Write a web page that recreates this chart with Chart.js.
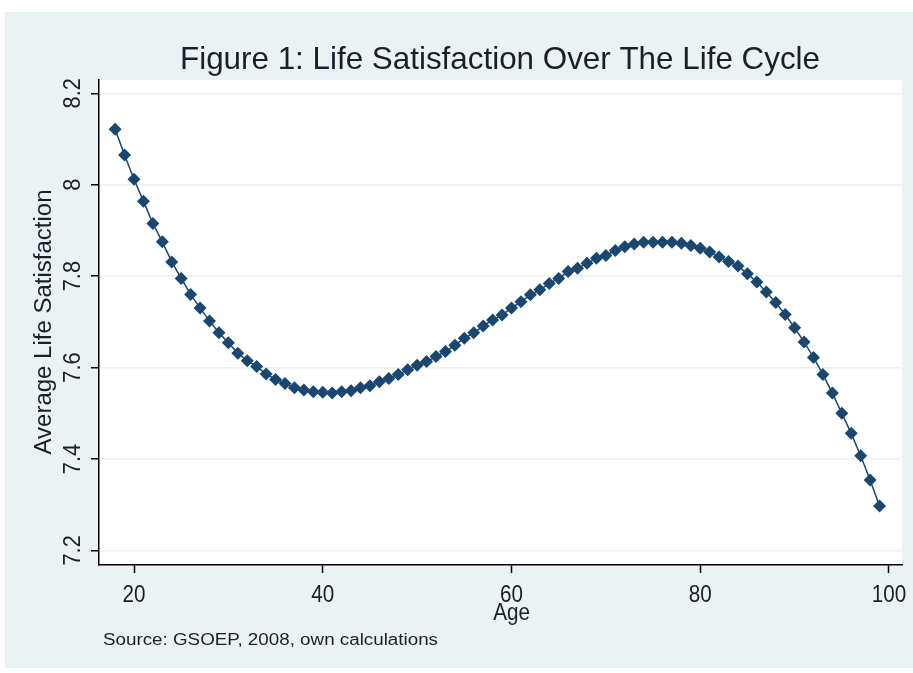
<!DOCTYPE html>
<html>
<head>
<meta charset="utf-8">
<script src="https://cdn.jsdelivr.net/npm/chart.js@4"></script>
<style>
  html, body { margin: 0; padding: 0; background: #ffffff; }
  #wrap { width: 913px; height: 673px; position: relative; }
</style>
</head>
<body>
<div id="wrap"><canvas id="c" width="913" height="673"></canvas></div>
<script>
// ---- data ----
const ages = [18,19,20,21,22,23,24,25,26,27,28,29,30,31,32,33,34,35,36,37,38,39,40,41,42,43,44,45,46,47,48,49,50,51,52,53,54,55,56,57,58,59,60,61,62,63,64,65,66,67,68,69,70,71,72,73,74,75,76,77,78,79,80,81,82,83,84,85,86,87,88,89,90,91,92,93,94,95,96,97,98,99];
const satisfaction = [8.121,8.065,8.012,7.964,7.915,7.875,7.831,7.795,7.760,7.730,7.702,7.676,7.654,7.631,7.615,7.602,7.586,7.574,7.565,7.556,7.551,7.547,7.546,7.544,7.547,7.549,7.556,7.560,7.569,7.576,7.585,7.595,7.605,7.613,7.624,7.635,7.649,7.664,7.676,7.691,7.704,7.715,7.730,7.744,7.759,7.770,7.784,7.795,7.810,7.817,7.828,7.839,7.845,7.856,7.864,7.870,7.874,7.874,7.874,7.874,7.872,7.867,7.861,7.853,7.842,7.832,7.822,7.805,7.787,7.765,7.742,7.716,7.687,7.656,7.622,7.585,7.544,7.500,7.456,7.407,7.354,7.297];
const xTicks = [20, 40, 60, 80, 100];
const xTickLabels = ['20', '40', '60', '80', '100'];
const yTicks = [7.2, 7.4, 7.6, 7.8, 8, 8.2];
const yTickLabels = ['7.2', '7.4', '7.6', '7.8', '8', '8.2'];
const titleText = 'Figure 1: Life Satisfaction Over The Life Cycle';
const xTitle = 'Age';
const yTitle = 'Average Life Satisfaction';
const noteText = 'Source: GSOEP, 2008, own calculations';

// ---- styles ----
const BG = '#eaf2f3';
const NAVY = '#1a476f';
const TEXT = '#1c1f2a';
const FONT = '"Liberation Sans", Arial, sans-serif';

function drawText(ctx, text, x, y, o) {
  ctx.save();
  ctx.translate(x, y);
  if (o.rotate) ctx.rotate(-Math.PI / 2);
  ctx.font = o.font;
  ctx.fillStyle = o.color || TEXT;
  ctx.textAlign = o.align || 'center';
  ctx.textBaseline = 'alphabetic';
  if (o.width) {
    const w = ctx.measureText(text).width;
    ctx.scale(o.width / w, 1);
  } else if (o.sx) {
    ctx.scale(o.sx, 1);
  }
  ctx.fillText(text, 0, 0);
  ctx.restore();
}

const decor = {
  id: 'decor',
  beforeDraw(chart) {
    const ctx = chart.ctx, a = chart.chartArea;
    ctx.save();
    ctx.fillStyle = '#ffffff';
    ctx.fillRect(0, 0, chart.width, chart.height);
    ctx.fillStyle = BG;
    ctx.fillRect(5, 12, chart.width - 5, 656);
    ctx.fillStyle = '#ffffff';
    ctx.fillRect(a.left, a.top, a.right - a.left, a.bottom - a.top);
    ctx.restore();
  },
  afterDraw(chart) {
    const ctx = chart.ctx, xs = chart.scales.x, ys = chart.scales.y;
    drawText(ctx, titleText, 500, 69, { font: '32px ' + FONT, width: 640 });
    xTicks.forEach((v, i) => {
      drawText(ctx, xTickLabels[i], xs.getPixelForValue(v), 602, { font: '24px ' + FONT, sx: 0.86 });
    });
    yTicks.forEach((v, i) => {
      drawText(ctx, yTickLabels[i], 80, ys.getPixelForValue(v), { font: '23px ' + FONT, rotate: true, sx: 0.95 });
    });
    drawText(ctx, xTitle, xs.getPixelForValue(60), 620, { font: '24px ' + FONT, sx: 0.86 });
    drawText(ctx, yTitle, 51, 322, { font: '23px ' + FONT, rotate: true, width: 265 });
    drawText(ctx, noteText, 103, 645, { font: '16px ' + FONT, align: 'left', width: 335 });
  }
};

new Chart(document.getElementById('c'), {
  type: 'line',
  data: {
    datasets: [{
      data: ages.map((a, i) => ({ x: a, y: satisfaction[i] })),
      borderColor: NAVY,
      backgroundColor: NAVY,
      borderWidth: 1.5,
      pointStyle: 'rectRot',
      pointRadius: 6.5,
      pointBorderWidth: 0,
      pointBackgroundColor: NAVY,
      tension: 0,
      fill: false
    }]
  },
  options: {
    responsive: false,
    devicePixelRatio: 1,
    animation: false,
    layout: { padding: { left: 91, top: 80, right: 11, bottom: 100 } },
    plugins: { legend: { display: false }, tooltip: { enabled: false }, title: { display: false } },
    scales: {
      x: {
        type: 'linear',
        min: 16.29,
        max: 101.38,
        afterBuildTicks: (s) => { s.ticks = xTicks.map(v => ({ value: v })); },
        ticks: { display: false },
        grid: { display: true, drawOnChartArea: false, drawTicks: true, tickLength: 8, tickColor: '#000', tickWidth: 1.5 },
        border: { display: true, color: '#000', width: 1.5 }
      },
      y: {
        type: 'linear',
        min: 7.168,
        max: 8.229,
        afterBuildTicks: (s) => { s.ticks = yTicks.map(v => ({ value: v })); },
        ticks: { display: false },
        grid: { display: true, drawOnChartArea: true, color: BG, lineWidth: 1.5, drawTicks: true, tickLength: 8, tickColor: '#000', tickWidth: 1.5 },
        border: { display: true, color: '#000', width: 1.5 }
      }
    }
  },
  plugins: [decor]
});
</script>
</body>
</html>
